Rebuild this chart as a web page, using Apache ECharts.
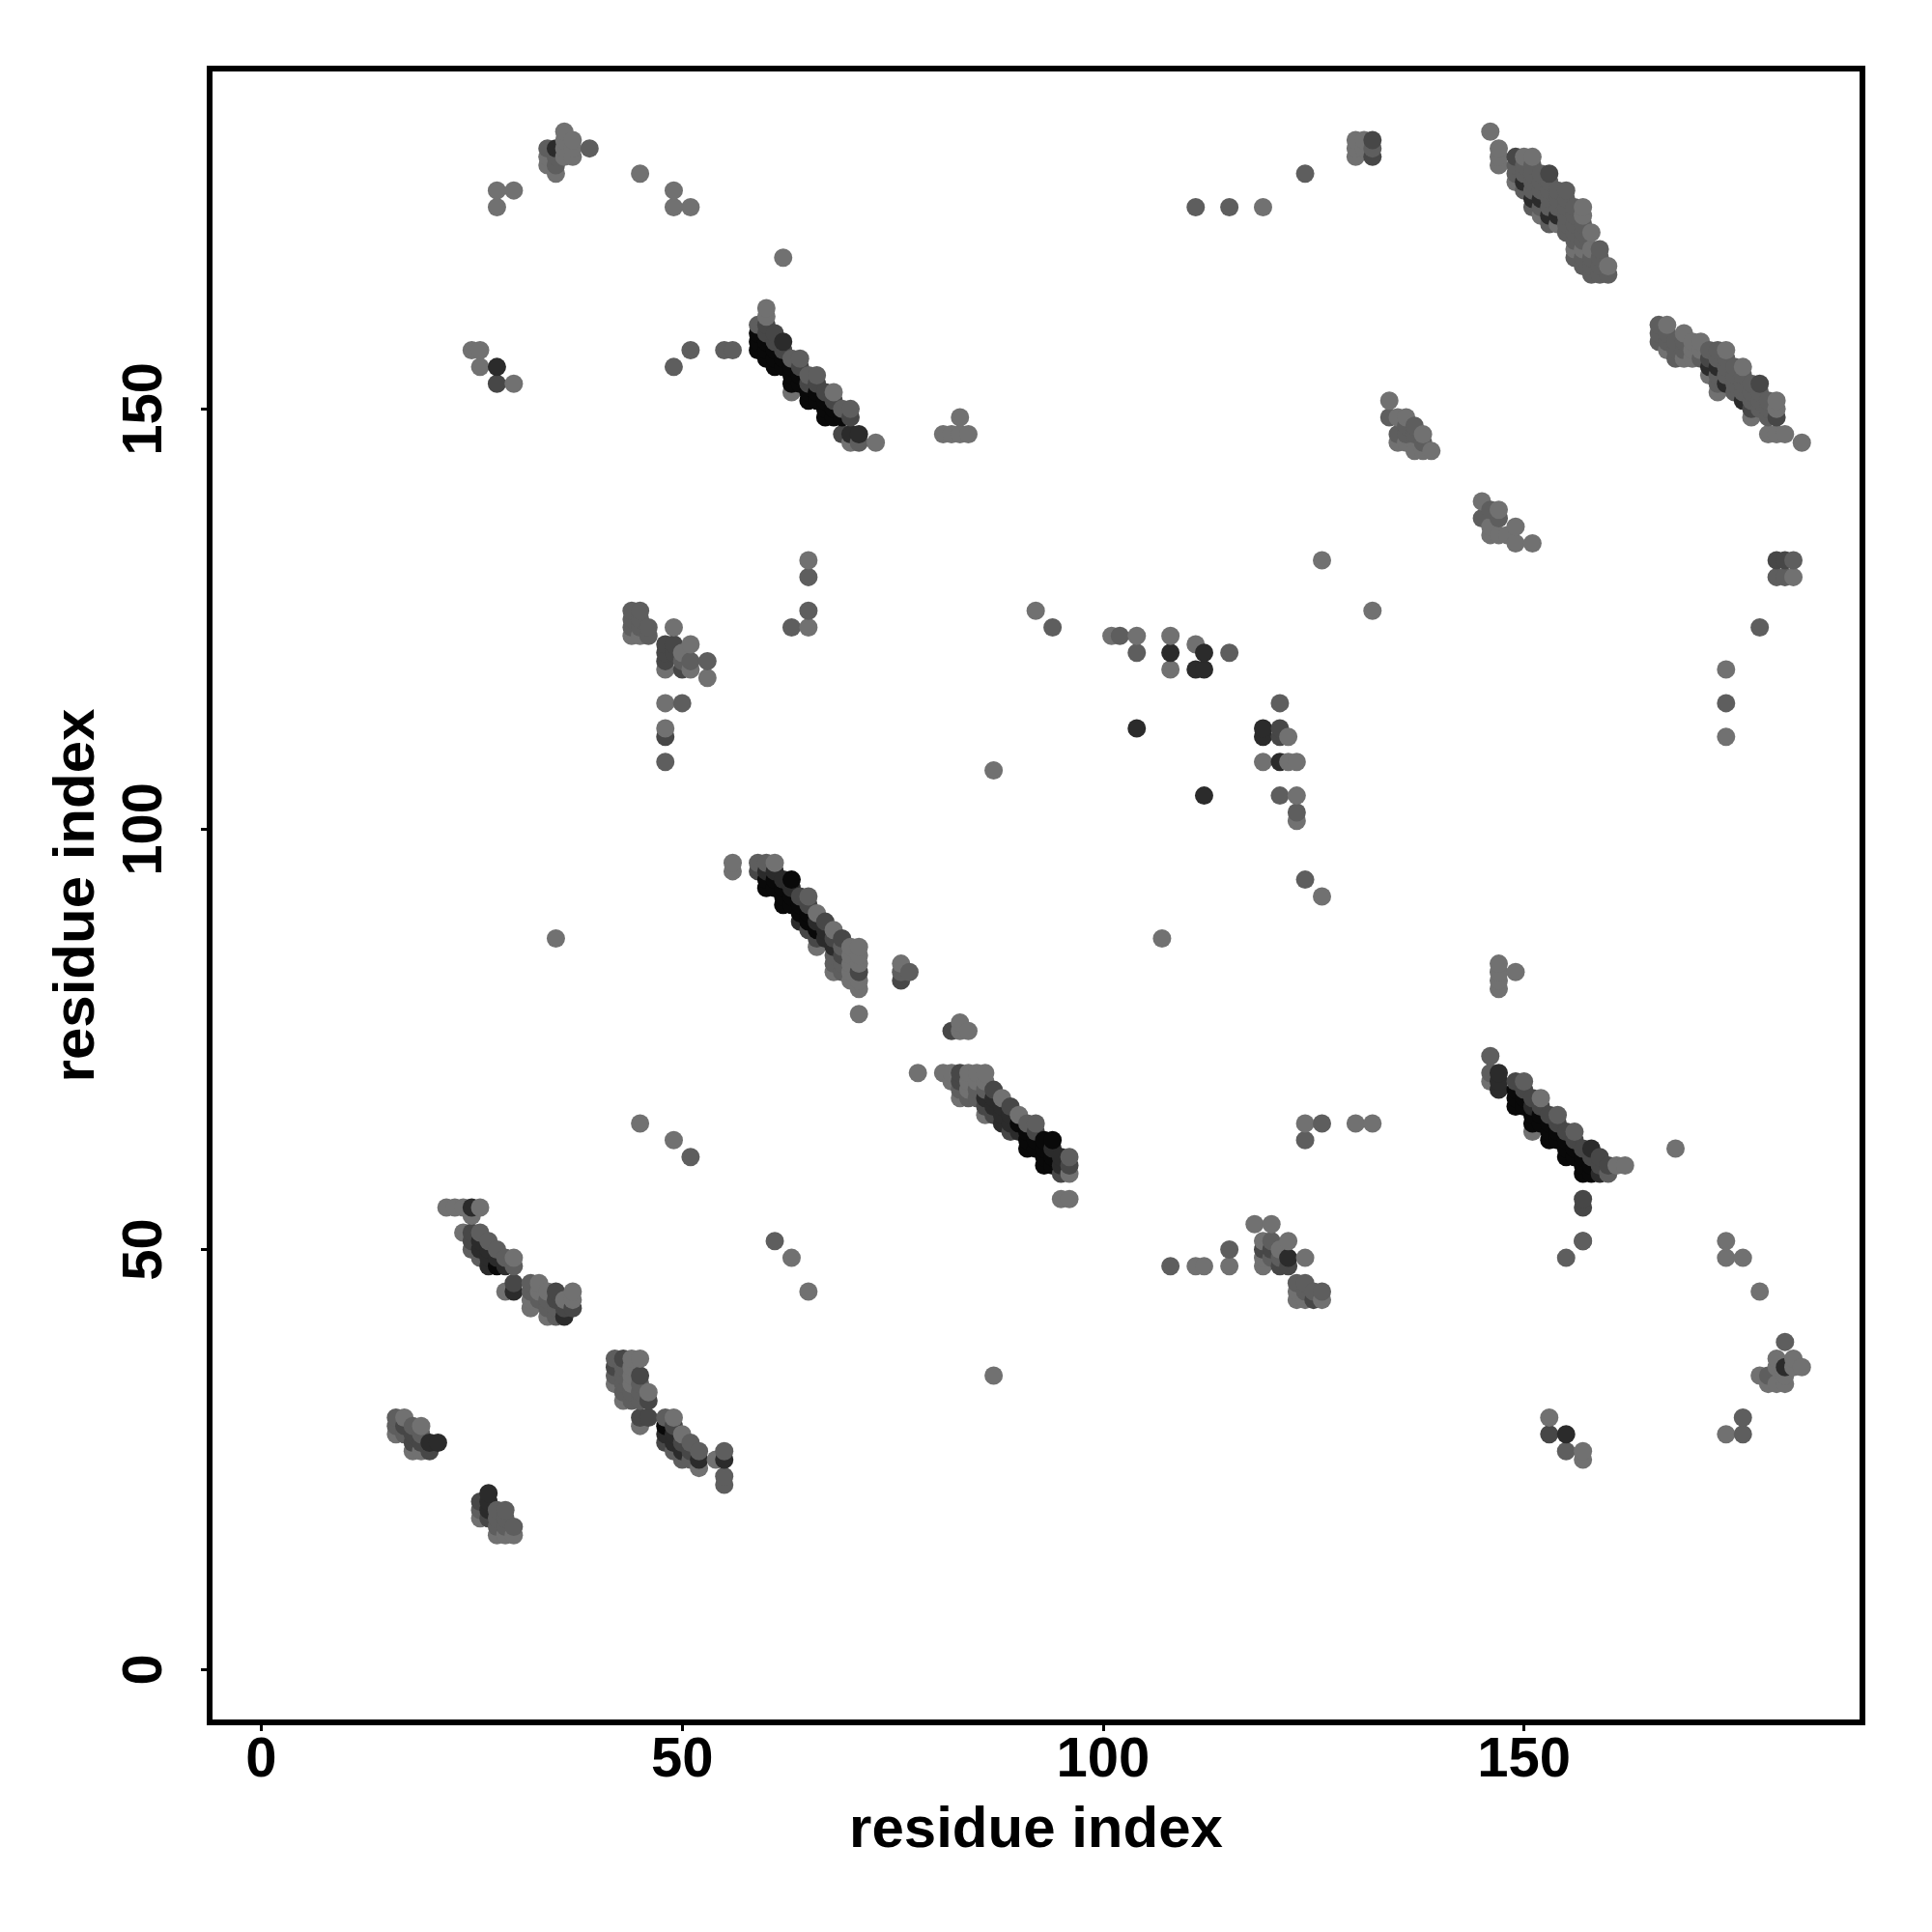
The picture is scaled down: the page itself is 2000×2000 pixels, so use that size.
<!DOCTYPE html>
<html><head><meta charset="utf-8">
<style>html,body{margin:0;padding:0;background:#fff}#c{width:2000px;height:2000px}</style>
<script src="https://cdn.jsdelivr.net/npm/echarts@6/dist/echarts.min.js"></script>
</head><body><div id="c"></div>
<script>
// each point: [residue x, residue y, grey level index]
const greys = ['#717171','#5e5e5e','#474747','#2b2b2b','#090909'];
const tickValues = [0,50,100,150];
const axisTitle = 'residue index';

const topLeft = [[28,174,0],[28,176,0],[30,176,0],[34,179,0],[34,180,0],[34,181,1],[35,178,0],[35,179,1],[35,180,1],[35,181,3],[36,180,0],[36,181,0],[36,182,0],[36,183,0],[37,180,0],[37,181,0],[37,182,0],[39,181,1],[45,178,0],[49,174,0],[49,176,0],[51,174,0],[62,168,0]];
const row157 = [[25,157,0],[26,155,0],[26,157,0],[28,153,2],[28,155,3],[30,153,0],[49,155,1],[51,157,1],[55,157,1],[56,157,1]];
const bandA = [[59,157,4],[59,158,4],[59,159,4],[59,160,1],[60,156,4],[60,157,4],[60,158,4],[60,159,2],[60,160,2],[60,161,0],[60,162,0],[61,155,4],[61,156,4],[61,157,4],[61,158,2],[61,159,2],[62,155,4],[62,156,4],[62,157,2],[62,158,3],[63,152,0],[63,153,4],[63,154,4],[63,155,4],[63,156,1],[64,153,4],[64,154,4],[64,155,2],[64,156,1],[65,151,4],[65,152,4],[65,153,2],[65,154,1],[66,151,4],[66,152,4],[66,153,2],[66,154,1],[67,149,4],[67,150,4],[67,151,4],[67,152,2],[68,149,4],[68,150,4],[68,151,2],[68,152,0],[69,147,2],[69,149,4],[69,150,1],[70,146,0],[70,147,3],[70,149,2],[70,150,1],[71,146,1],[71,147,3],[73,146,0]];
const upperMid = [[81,147,0],[82,147,0],[83,147,0],[83,149,0],[84,147,0],[111,174,1],[115,174,1],[119,174,0],[124,178,1],[130,180,0],[130,181,0],[130,182,0],[131,181,0],[131,182,0],[132,180,2],[132,181,1],[132,182,2]];
const bandB = [[146,183,0],[147,179,0],[147,180,0],[147,181,0],[149,177,0],[149,178,1],[149,179,1],[149,180,2],[150,176,1],[150,177,3],[150,178,1],[150,179,1],[150,180,0],[151,174,1],[151,175,3],[151,176,1],[151,177,1],[151,178,1],[151,179,1],[151,180,0],[152,173,0],[152,174,1],[152,175,3],[152,176,1],[152,177,1],[152,178,1],[153,172,1],[153,173,3],[153,174,1],[153,175,1],[153,176,1],[153,177,1],[153,178,2],[154,172,0],[154,173,3],[154,174,1],[154,175,1],[154,176,1],[155,171,1],[155,172,1],[155,173,1],[155,174,1],[155,175,1],[155,176,1],[156,168,1],[156,169,0],[156,170,1],[156,171,1],[156,172,1],[156,173,1],[156,174,1],[157,167,1],[157,168,1],[157,169,0],[157,170,1],[157,171,1],[157,172,1],[157,173,0],[157,174,0],[158,166,1],[158,167,1],[158,168,1],[158,169,0],[158,171,0],[159,166,1],[159,167,1],[159,168,1],[159,169,1],[160,166,1],[160,167,0]];
const bandC = [[166,158,1],[166,159,1],[166,160,1],[167,157,0],[167,158,1],[167,159,1],[167,160,0],[168,156,1],[168,157,1],[168,158,1],[169,156,0],[169,157,1],[169,158,1],[169,159,0],[170,156,0],[170,157,0],[170,158,0],[171,156,1],[171,157,0],[171,158,0],[172,154,0],[172,155,3],[172,156,2],[172,157,1],[173,152,0],[173,153,1],[173,154,1],[173,155,3],[173,156,1],[173,157,1],[174,153,3],[174,154,1],[174,155,1],[174,156,1],[174,157,0],[175,152,1],[175,153,1],[175,154,1],[175,155,1],[176,151,3],[176,152,1],[176,153,1],[176,154,1],[176,155,0],[177,149,0],[177,150,2],[177,151,1],[177,152,1],[177,153,1],[178,150,1],[178,151,1],[178,152,1],[178,153,2],[179,147,0],[179,149,1],[179,150,1],[179,151,1],[180,147,0],[180,149,2],[180,150,0],[180,151,0],[181,147,0],[183,146,0]];
const midUpper = [[134,149,1],[134,151,0],[135,146,0],[135,147,1],[135,149,0],[136,146,0],[136,147,1],[136,148,1],[136,149,0],[137,145,0],[137,147,1],[137,148,1],[138,145,0],[138,146,1],[138,147,0],[139,145,0],[145,137,1],[145,139,0],[146,135,0],[146,136,0],[146,138,1],[147,135,0],[147,137,1],[147,138,0],[148,135,0],[149,134,0],[149,136,0],[151,134,0],[126,132,0],[132,126,0],[180,130,1],[180,132,2],[181,130,1],[181,132,2],[182,130,0],[182,132,1],[178,124,1],[174,119,0],[174,115,1],[174,111,0]];
const leftMid = [[65,132,0],[65,130,1],[65,126,1],[63,124,1],[65,124,0],[44,123,0],[44,124,1],[44,125,1],[44,126,1],[45,123,0],[45,124,1],[45,125,1],[45,126,1],[46,123,1],[46,124,1],[48,108,1],[48,111,2],[48,112,0],[48,115,0],[48,119,0],[48,120,2],[48,121,2],[48,122,2],[49,122,2],[49,121,2],[49,124,0],[50,115,1],[50,119,2],[50,120,1],[50,121,0],[51,119,0],[51,120,1],[51,122,0],[53,118,0],[53,120,1]];
const centerMid = [[87,107,0],[92,126,0],[94,124,1],[101,123,0],[102,123,1],[104,121,1],[104,123,0],[104,112,3],[108,119,0],[108,121,3],[108,123,0],[111,119,3],[111,122,0],[112,104,3],[112,119,3],[112,121,3],[115,121,1],[119,108,0],[119,111,3],[119,112,3],[121,104,1],[121,108,3],[121,111,2],[121,112,2],[121,115,1],[122,108,0],[122,111,0],[123,101,0],[123,102,1],[123,104,0],[123,108,0],[124,94,1],[126,92,0]];
const bandD = [[35,87,0],[56,95,0],[56,96,0],[59,95,2],[59,96,1],[60,93,4],[60,94,4],[60,95,3],[60,96,1],[61,93,4],[61,94,4],[61,95,3],[61,96,0],[62,91,4],[62,92,4],[62,93,4],[62,94,3],[63,91,4],[63,92,4],[63,93,3],[63,94,4],[64,89,3],[64,90,4],[64,91,4],[64,92,2],[65,88,2],[65,89,4],[65,90,4],[65,91,2],[65,92,1],[66,86,0],[66,87,2],[66,88,4],[66,89,3],[66,90,0],[67,87,3],[67,88,3],[67,89,2],[68,83,0],[68,84,1],[68,85,1],[68,86,3],[68,87,2],[68,88,0],[69,83,1],[69,84,1],[69,85,2],[69,86,1],[69,87,2],[70,82,0],[70,83,0],[70,84,0],[70,85,0],[70,86,0],[71,78,0],[71,81,0],[71,82,0],[71,83,2],[71,84,0],[71,85,0],[71,86,0],[76,82,2],[76,83,1],[76,84,0],[77,83,1],[107,87,0],[147,81,0],[147,82,0],[147,83,0],[147,84,0],[149,83,0]];
const bandF = [[82,76,2],[83,76,0],[83,77,0],[84,76,0],[78,71,0],[81,71,0],[82,70,0],[82,71,0],[83,68,0],[83,69,1],[83,70,2],[83,71,2],[84,68,1],[84,69,0],[84,70,0],[84,71,0],[85,68,1],[85,69,1],[85,70,0],[85,71,0],[86,66,0],[86,67,2],[86,68,3],[86,69,1],[86,70,0],[86,71,0],[87,66,2],[87,67,3],[87,68,3],[87,69,2],[88,65,3],[88,66,3],[88,67,3],[88,68,0],[89,64,2],[89,65,3],[89,66,3],[89,67,2],[90,64,3],[90,65,4],[90,66,0],[91,62,4],[91,63,4],[91,64,4],[91,65,1],[92,62,4],[92,63,4],[92,64,2],[92,65,1],[93,60,4],[93,61,4],[93,62,4],[93,63,4],[94,60,4],[94,61,4],[94,62,3],[94,63,4],[95,56,0],[95,59,2],[95,60,3],[95,61,3],[96,56,0],[96,59,0],[96,60,2],[96,61,1]];
const bandE = [[146,70,0],[146,71,1],[146,73,1],[147,69,3],[147,70,3],[147,71,3],[149,67,4],[149,68,4],[149,69,4],[149,70,2],[150,67,4],[150,68,4],[150,69,2],[150,70,1],[151,64,0],[151,65,4],[151,66,4],[151,67,3],[151,68,2],[152,65,4],[152,66,4],[152,67,2],[152,68,0],[153,63,4],[153,64,4],[153,65,4],[153,66,2],[154,63,4],[154,64,4],[154,65,2],[154,66,1],[155,61,4],[155,62,4],[155,63,4],[155,64,2],[156,61,4],[156,62,4],[156,63,2],[156,64,1],[157,51,1],[157,55,2],[157,56,2],[157,59,4],[157,60,4],[157,61,4],[157,62,2],[158,59,4],[158,60,4],[158,61,2],[158,62,3],[159,59,3],[159,60,2],[159,61,2],[160,59,1],[160,60,2],[161,60,0],[162,60,0],[168,62,0]];
const lowerMid = [[45,65,0],[49,63,0],[51,61,1],[124,63,1],[124,65,0],[126,65,1],[130,65,0],[132,65,0],[61,51,1],[63,49,0],[65,45,0],[108,48,1],[111,48,0],[112,48,0],[115,48,0],[115,50,1],[118,53,0],[119,48,0],[119,49,0],[119,50,2],[119,51,0],[120,49,1],[120,50,2],[120,51,1],[120,53,0],[121,48,2],[121,49,1],[121,50,0],[122,48,2],[122,49,3],[122,51,0],[124,49,0],[123,44,0],[123,45,0],[123,46,1],[124,44,0],[124,45,1],[124,46,1],[125,44,2],[125,45,1],[126,44,0],[126,45,1],[155,49,1],[157,51,1],[174,49,0],[174,51,0],[176,49,0],[178,45,0]];
const lowerRight = [[87,35,0],[153,28,2],[153,30,0],[155,26,1],[155,28,3],[157,25,0],[157,26,0],[174,28,0],[176,28,1],[176,30,1],[178,35,0],[179,34,0],[179,35,1],[180,34,0],[180,36,0],[180,37,0],[181,34,0],[181,35,0],[181,36,3],[181,39,1],[182,36,0],[182,37,0],[183,36,0]];
const band1 = [[22,55,0],[23,55,0],[24,52,0],[24,55,0],[25,50,1],[25,51,2],[25,52,2],[25,54,0],[25,55,3],[26,49,1],[26,50,3],[26,51,3],[26,52,1],[26,55,0],[27,48,3],[27,49,3],[27,50,3],[27,51,1],[28,48,4],[28,49,3],[28,50,1],[29,45,0],[29,48,3],[29,49,1],[30,45,3],[30,46,2],[30,48,1],[30,49,0],[32,43,0],[32,44,0],[32,45,1],[32,46,1],[33,44,1],[33,45,0],[33,46,0],[34,42,0],[34,43,1],[34,44,1],[34,45,0],[35,42,1],[35,43,1],[35,44,2],[35,45,2],[36,42,3],[36,43,2],[36,44,0],[37,43,2],[37,44,0],[37,45,0]];
const band2 = [[42,34,0],[42,35,1],[42,36,2],[42,37,1],[43,32,0],[43,33,1],[43,34,1],[43,35,1],[43,36,1],[43,37,2],[44,32,1],[44,33,1],[44,34,0],[44,35,0],[44,36,0],[44,37,0],[45,29,0],[45,30,2],[45,32,1],[45,33,1],[45,34,1],[45,35,2],[45,37,0],[46,30,2],[46,32,2],[46,33,0],[48,27,2],[48,28,3],[48,29,4],[48,30,1],[49,26,1],[49,27,3],[49,28,3],[49,29,2],[49,30,0],[50,25,1],[50,26,3],[50,27,2],[50,28,0],[51,25,1],[51,26,2],[51,27,1],[52,24,0],[52,25,3],[52,26,1],[54,25,0],[55,22,1],[55,23,1],[55,25,3],[55,26,1]];
const cluster3 = [[16,28,0],[16,29,1],[16,30,1],[17,28,1],[17,29,2],[17,30,0],[18,26,0],[18,27,2],[18,28,2],[18,29,1],[19,26,0],[19,27,2],[19,28,1],[19,29,0],[20,26,2],[20,27,3],[21,27,3]];
const cluster4 = [[26,18,0],[26,19,1],[26,20,2],[27,18,2],[27,19,3],[27,20,3],[27,21,3],[28,16,0],[28,17,1],[28,18,1],[28,19,1],[29,16,0],[29,17,1],[29,18,1],[29,19,1],[30,16,0],[30,17,1]];

const points = [].concat(topLeft,row157,bandA,upperMid,bandB,bandC,midUpper,leftMid,centerMid,bandD,bandF,bandE,lowerMid,lowerRight,band1,band2,cluster3,cluster4)
  .sort((a,b)=>a[0]-b[0]||a[1]-b[1]);

const font = {fontFamily:'Liberation Sans',fontWeight:'bold',fontSize:58,color:'#000'};
const nameFont = {...font,fontSize:60};
const chart = echarts.init(document.getElementById('c'),null,{renderer:'canvas'});
chart.setOption({
  animation:false,
  backgroundColor:'#fff',
  grid:{left:217,top:71,width:1711,height:1712,show:true,borderColor:'#000',borderWidth:6,backgroundColor:'transparent',containLabel:false},
  xAxis:{type:'value',min:-6.13,max:190.2,splitLine:{show:false},
    axisLine:{show:false,onZero:false},
    axisTick:{show:true,length:9,inside:false,lineStyle:{color:'#000',width:3},customValues:tickValues},
    axisLabel:{show:true,margin:11,customValues:tickValues,hideOverlap:false,showMinLabel:true,showMaxLabel:true,...font},
    name:axisTitle,nameLocation:'middle',nameGap:82,nameTextStyle:nameFont},
  yAxis:{type:'value',min:-6.27,max:190.5,splitLine:{show:false},
    axisLine:{show:false,onZero:false},
    axisTick:{show:true,length:9,inside:false,lineStyle:{color:'#000',width:3},customValues:tickValues},
    axisLabel:{show:true,margin:66,rotate:90,customValues:tickValues,hideOverlap:false,showMinLabel:true,showMaxLabel:true,verticalAlign:'middle',align:'center',...font},
    name:axisTitle,nameLocation:'middle',nameGap:107,nameRotate:90,nameTextStyle:nameFont},
  series:[{type:'scatter',symbol:'circle',symbolSize:19,large:false,progressive:0,silent:true,
    itemStyle:{opacity:1},
    data:points.map(p=>({value:[p[0],p[1]],itemStyle:{color:greys[p[2]],opacity:1}}))}]
});
</script></body></html>
